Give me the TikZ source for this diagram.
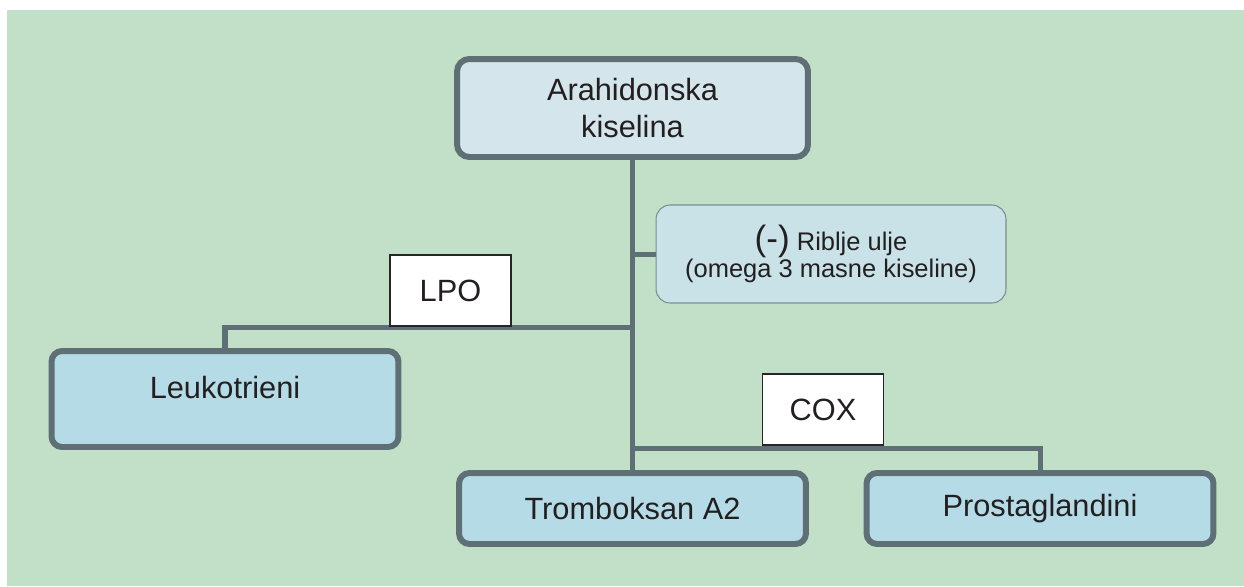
\documentclass[tikz,border=0pt]{standalone}
\usepackage{fontspec}
\setmainfont{Liberation Sans}
\usetikzlibrary{positioning}
\definecolor{bggreen}{RGB}{194,224,200}
\definecolor{edgegray}{RGB}{94,112,118}
\definecolor{paleblue}{RGB}{212,230,236}
\definecolor{lightblue}{RGB}{181,220,230}
\definecolor{noteblue}{RGB}{200,226,232}
\definecolor{inkblack}{RGB}{35,31,32}

\begin{document}
\begin{tikzpicture}[
  x=0.02cm, y=-0.02cm,
  every node/.style={font=\fontsize{17.5}{21}\selectfont, text=inkblack},
  topnode/.style={rectangle, draw=edgegray, line width=3.4pt, rounded corners=7pt, fill=paleblue, align=center, minimum width=7.02cm, minimum height=1.96cm},
  resnode/.style={rectangle, draw=edgegray, line width=3.4pt, rounded corners=6pt, fill=lightblue, minimum width=6.94cm, minimum height=1.42cm},
  notenode/.style={rectangle, draw=edgegray!80, line width=0.6pt, rounded corners=8pt, fill=noteblue, align=center, minimum width=7cm, minimum height=1.96cm, font=\fontsize{14.5}{15.5}\selectfont},
  enzymenode/.style={rectangle, draw=black!85, line width=0.9pt, fill=white, minimum width=2.42cm, minimum height=1.42cm},
  conn/.style={draw=edgegray, line width=2.85pt}
]

% Background
\useasboundingbox (0,0) rectangle (1244,586);
\fill[bggreen] (7,10) rectangle (1244,586);

% Nodes
\node[topnode] (arah) at (632.5,108) {Arahidonska\\kiselina};
\node[notenode] (riba) at (831,254) {{\fontsize{20}{20}\selectfont(-)} Riblje ulje\\ (omega 3 masne kiseline)};
\node[resnode, minimum height=1.92cm, text height=0.45cm, text depth=0.49cm] (leuko) at (225,399) {Leukotrieni};
\node[resnode] (trom) at (632.5,508.5) {Tromboksan A2};
\node[resnode] (prosta) at (1040,508.5) {Prostaglandini};

% Edges
\draw[conn] (arah.south) -- (trom.north);
\draw[conn] (arah.south |- riba.west) -- (riba.west);
\draw[conn] (arah.south |- 0,327) -| (leuko.north);
\draw[conn] (arah.south |- 0,448) -| (prosta.north);

% Enzymes
\node[enzymenode] (lpo) at (450.5,290.5) {LPO};
\node[enzymenode] (cox) at (823,409.5) {COX};

\end{tikzpicture}
\end{document}
